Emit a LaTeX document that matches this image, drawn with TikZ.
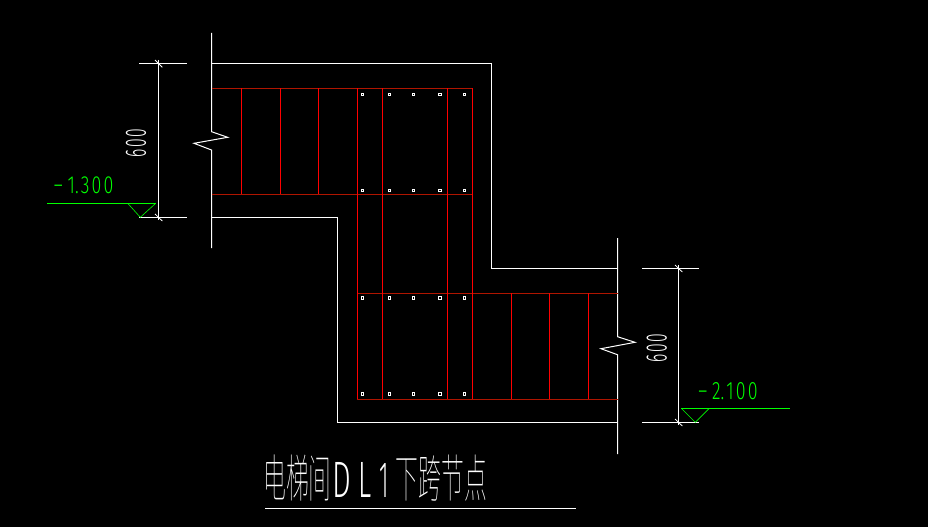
\documentclass[tikz,border=0pt]{standalone}
\usepackage{fontspec}
\usepackage{graphicx}
\newfontfamily\cadfont[UprightFont=* Light]{Fira Sans}
\newfontfamily\cjkfont[UprightFont=* Thin]{Noto Sans CJK SC}
\definecolor{rbar}{HTML}{FF0000}
\definecolor{rdark}{HTML}{B01500}
\definecolor{lvl}{HTML}{00FF00}
\tikzset{
  wall/.style={draw=white,line width=1pt},
  thinw/.style={draw=white,line width=.75pt},
  stirrup/.style={draw=rbar,line width=1pt},
  hbar/.style={draw=rdark,line width=1pt},
  lvlline/.style={draw=lvl,line width=1pt},
  lvlthin/.style={draw=lvl,line width=.6pt},
  dot/.style={rectangle,draw=white,fill=black,line width=.9pt,inner sep=0pt,minimum size=2.6pt},
  lab/.style={inner sep=0pt,outer sep=0pt,font=\cadfont},
}
\begin{document}
\begin{tikzpicture}[x=1pt,y=-1pt]
\fill[black] (0,0) rectangle (928,527);
\useasboundingbox (0,0) rectangle (928,527);
% outlines
\draw[wall] (211.5,33) -- (211.5,131.7) -- (227.7,137.3) -- (194,143.3) -- (211.5,150) -- (211.5,248);
\draw[wall] (617.5,238) -- (617.5,336.7) -- (635,342.3) -- (601,348.7) -- (617.5,354.7) -- (617.5,454);
\draw[wall] (211.5,63.5) -- (491.5,63.5) -- (491.5,268.5) -- (617.5,268.5);
\draw[wall] (211.5,217.3) -- (337.3,217.3) -- (337.3,422.3) -- (617.5,422.3);
% horizontal bars
\draw[hbar] (211.5,88.3) -- (472.3,88.3);
\draw[hbar] (211.5,194.3) -- (472.3,194.3);
\draw[hbar] (357.3,293.3) -- (617.5,293.3);
\draw[hbar] (357.3,399.3) -- (617.5,399.3);
% stirrups
\foreach \x in {241.3,280.3,318.3} \draw[stirrup] (\x,88.3) -- (\x,194.3);
\foreach \x in {511.3,549.3,588.3} \draw[stirrup] (\x,293.3) -- (\x,399.3);
\foreach \x in {357.3,382.3,447.3,472.3} \draw[stirrup] (\x,88.3) -- (\x,399.3);
% bars
\foreach \x in {362.3,389.5,413.3,440,464.3}
  \foreach \y in {94.3,190.3,298,394}
    \node[dot] at (\x,\y) {};
% dimensions
\draw[thinw] (139,63.5) -- (186.7,63.5);
\draw[thinw] (139,217.3) -- (186.7,217.3);
\draw[wall] (158.3,60) -- (158.3,220);
\draw[thinw] (155,60) -- (162.3,67.3);
\draw[thinw] (155,214) -- (162.3,221);
\draw[thinw] (642,268.5) -- (699,268.5);
\draw[thinw] (642,422.3) -- (699,422.3);
\draw[wall] (678.3,265) -- (678.3,425);
\draw[thinw] (675,265) -- (682.3,272);
\draw[thinw] (675,419) -- (682.3,426);
\node[lab,text=white,rotate=90] (dimA) at (136,143) {\resizebox{28pt}{20pt}{6\kern.08em 0\kern.08em 0}};
\node[lab,text=white,rotate=90] (dimB) at (656.8,348) {\resizebox{28pt}{20pt}{6\kern.08em 0\kern.08em 0}};
% levels
\draw[lvlline] (47,203.3) -- (155.7,203.3);
\draw[lvlthin] (127.7,203.3) -- (140.3,217.3) -- (155.7,203.3);
\draw[lvlline] (681.3,408.3) -- (790,408.3);
\draw[lvlthin] (681.3,408.3) -- (695.3,422.3) -- (709.3,408.3);
\node[lab,text=lvl] (lvA) at (83,185.7) {\resizebox{60.6pt}{16.7pt}{\scalebox{1.6}[1]{-}\kern.2em 1.\kern.12em 3\kern.12em 0\kern.12em 0}};
\node[lab,text=lvl] (lvB) at (727.3,390.8) {\resizebox{60.6pt}{17pt}{\scalebox{1.6}[1]{-}\kern.2em 2.\kern.12em 1\kern.12em 0\kern.12em 0}};
% title
\node[inner sep=0pt,text=white] (title) at (375.2,478) {\resizebox{223.7pt}{42.6pt}{\cjkfont 电梯间\kern.05em{\cadfont\scalebox{1.3}[1]{D}\kern.3em\scalebox{1.2}[1]{L}\kern.35em 1}\kern.3em 下跨节点}};
\draw[thinw] (265,508.3) -- (576,508.3);
\end{tikzpicture}
\end{document}
